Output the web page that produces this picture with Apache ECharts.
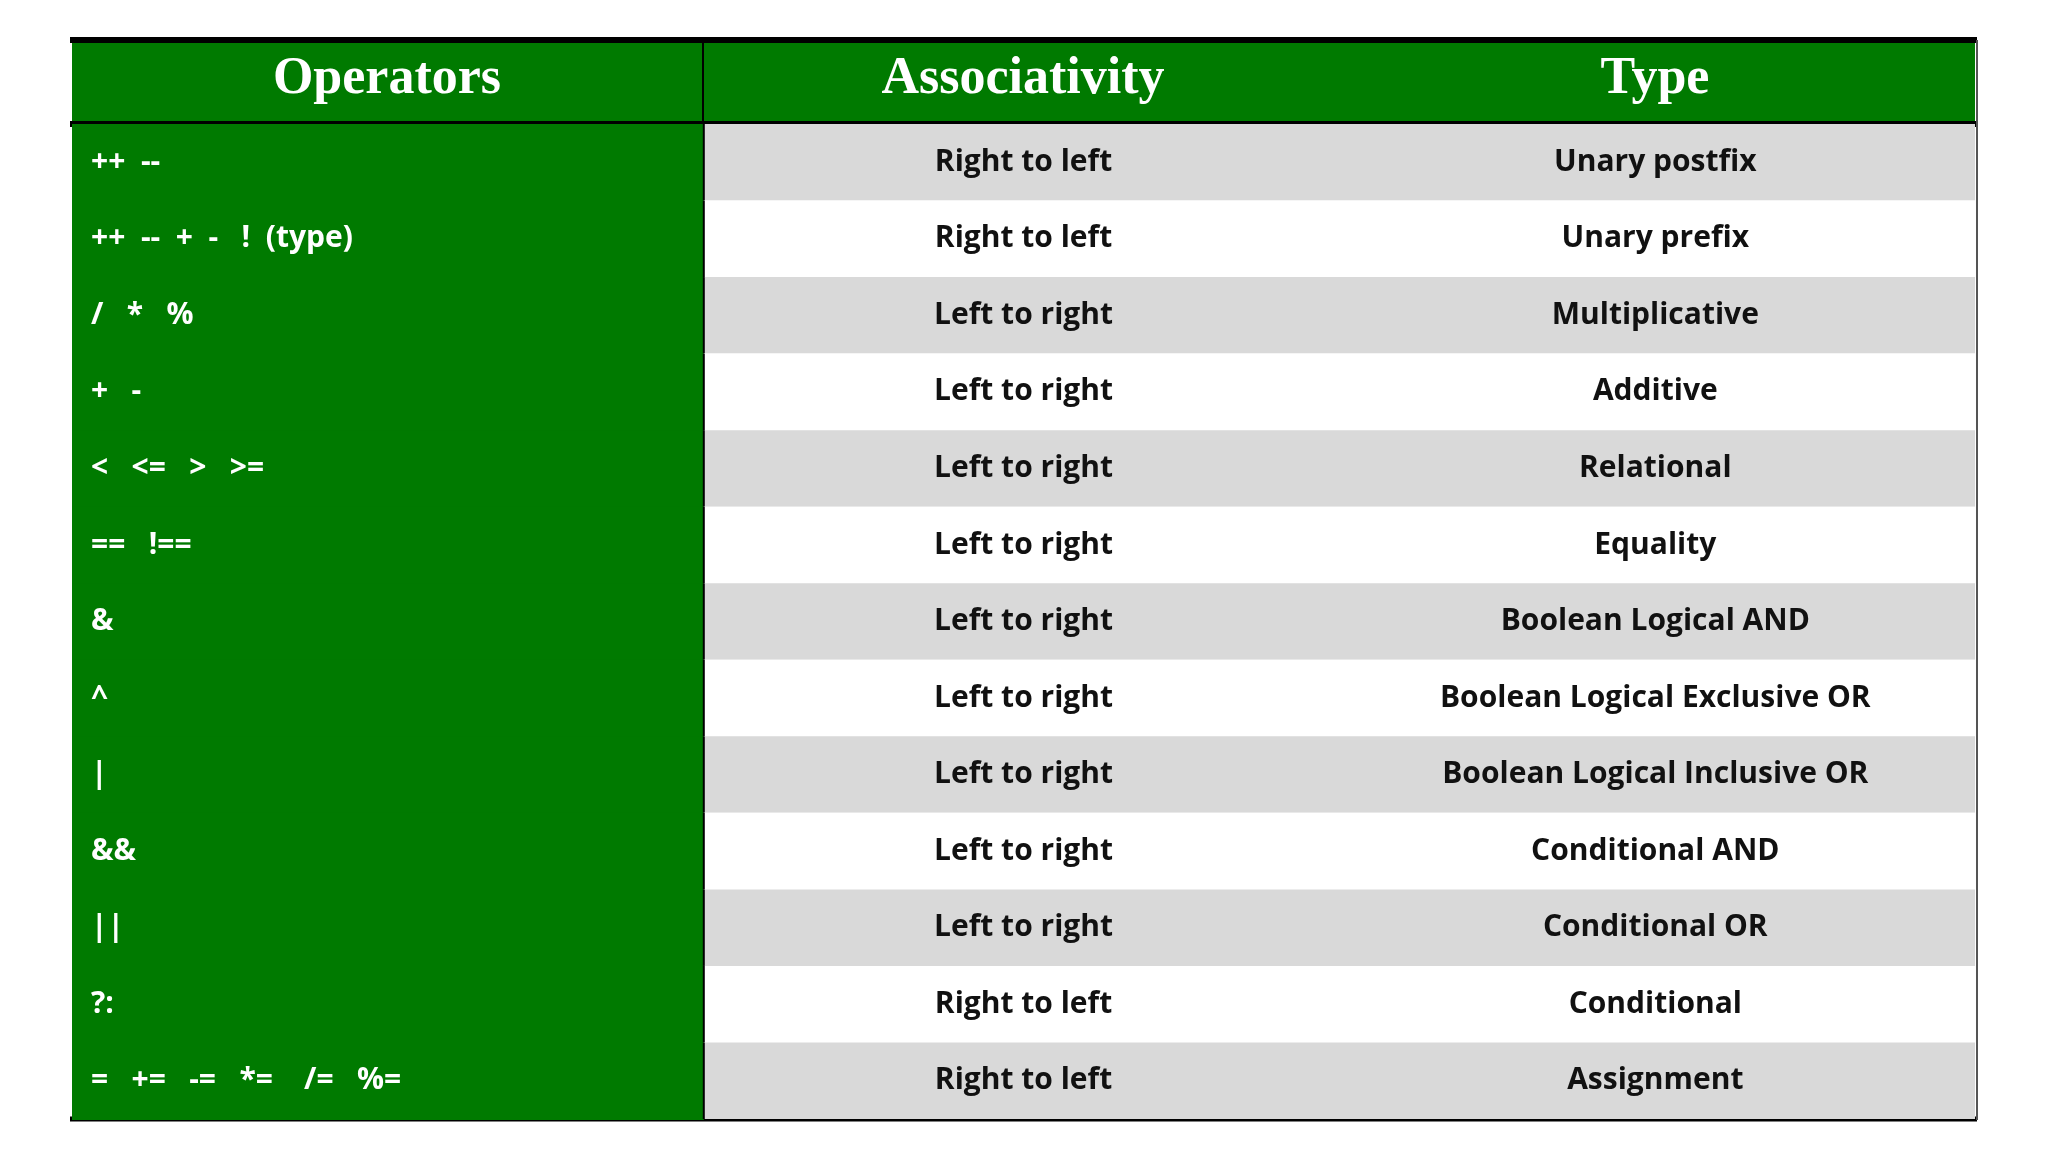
<!DOCTYPE html>
<html><head><meta charset="utf-8">
<script src="https://cdn.jsdelivr.net/npm/echarts@6/dist/echarts.min.js"></script>
<style>html,body{margin:0;background:#fff}#main{width:2048px;height:1152px}</style>
</head><body><div id="main"></div>
<script>
// table content
var headers = ['Operators', 'Associativity', 'Type'];
var operators = ['++  --', '++  --  +  -   !  (type)', '/   *   %', '+   -', '<   <=   >   >=', '==   !==', '&', '^', '|', '&&', '||', '?:', '=   +=   -=   *=    /=   %='];
var associativity = ['Right to left', 'Right to left', 'Left to right', 'Left to right', 'Left to right', 'Left to right', 'Left to right', 'Left to right', 'Left to right', 'Left to right', 'Left to right', 'Right to left', 'Right to left'];
var types = ['Unary postfix', 'Unary prefix', 'Multiplicative', 'Additive', 'Relational', 'Equality', 'Boolean Logical AND', 'Boolean Logical Exclusive OR', 'Boolean Logical Inclusive OR', 'Conditional AND', 'Conditional OR', 'Conditional', 'Assignment'];

var myChart = echarts.init(document.getElementById('main'));
var split = 33.2, assocX = 50, typeX = 83.2;
var rows = operators.map(function (op, i) { return [i, op, associativity[i], types[i]]; });
var font = 'bold 30px "Open Sans", sans-serif';

var option = {
    animation: false,
    grid: {left: 72, right: 73, top: 124, bottom: 33},
    xAxis: {type: 'value', min: 0, max: 100, show: false},
    yAxis: {type: 'category', inverse: true, data: operators.map(function (d, i) { return i; }), show: false},
    graphic: [
        {type: 'rect', shape: {x: 72, y: 39, width: 1903, height: 85}, style: {fill: '#007a00'}},
        {type: 'line', shape: {x1: 703, y1: 42, x2: 703, y2: 124}, style: {stroke: '#000', lineWidth: 2}},
        {type: 'line', shape: {x1: 70, y1: 40, x2: 1977, y2: 40}, style: {stroke: '#000', lineWidth: 6}},
        {type: 'line', shape: {x1: 70, y1: 124, x2: 1977, y2: 124}, style: {stroke: '#000', lineWidth: 6}},
        {type: 'line', shape: {x1: 70, y1: 1119, x2: 1977, y2: 1119}, style: {stroke: '#000', lineWidth: 5}},
        {type: 'line', shape: {x1: 1977, y1: 40, x2: 1977, y2: 1120}, style: {stroke: '#555', lineWidth: 2}}
    ].concat(headers.map(function (h, i) {
        return {type: 'text', x: [387, 1023, 1655][i], y: 80, z: 10,
            style: {text: h, fill: '#fff', font: 'bold 52px "Liberation Serif", "DejaVu Serif", serif', align: 'center', verticalAlign: 'middle'}};
    })),
    series: [{
        type: 'custom',
        data: rows,
        renderItem: function (params, api) {
            var i = api.value(0);
            var p0 = api.coord([0, i]);
            var pS = api.coord([split, i]);
            var pE = api.coord([100, i]);
            var h = api.size([0, 1])[1];
            var top = p0[1] - h / 2;
            var r = rows[i];
            return {type: 'group', children: [
                {type: 'rect', shape: {x: p0[0], y: top, width: pS[0] - p0[0], height: h + 1}, style: {fill: '#007a00'}},
                {type: 'rect', shape: {x: pS[0], y: top, width: pE[0] - pS[0], height: h}, style: {fill: i % 2 === 0 ? '#d9d9d9' : '#ffffff'}},
                {type: 'line', shape: {x1: pS[0], y1: top, x2: pS[0], y2: top + h}, style: {stroke: '#000', lineWidth: 2}},
                {type: 'text', x: p0[0] + 19, y: p0[1], style: {text: r[1], fill: '#fff', font: font, verticalAlign: 'middle'}},
                {type: 'text', x: api.coord([assocX, i])[0], y: p0[1], style: {text: r[2], fill: '#111', font: font, align: 'center', verticalAlign: 'middle'}},
                {type: 'text', x: api.coord([typeX, i])[0], y: p0[1], style: {text: r[3], fill: '#111', font: font, align: 'center', verticalAlign: 'middle'}}
            ]};
        }
    }]
};
myChart.setOption(option);
</script></body></html>
